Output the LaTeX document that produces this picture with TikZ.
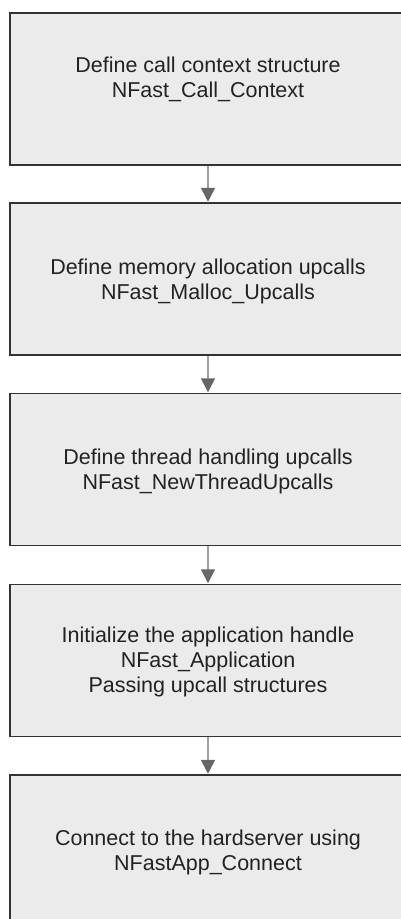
\documentclass[tikz,border=0pt]{standalone}
\usepackage{fontspec}
\setmainfont{Liberation Sans}
\usetikzlibrary{arrows.meta}
\definecolor{boxfill}{HTML}{EBEBEB}
\definecolor{boxline}{HTML}{333333}
\definecolor{linkline}{HTML}{A0A0A0}
\definecolor{tipfill}{HTML}{666666}
\definecolor{textcol}{HTML}{222222}
\begin{document}
\begin{tikzpicture}[x=1pt,y=-1pt,
  stepbox/.style={draw=boxline, line width=1.3pt, fill=boxfill,
    minimum width=420pt, minimum height=152pt, inner sep=0pt},
  steptext/.style={text=textcol, align=center, inner sep=0pt,
    font=\fontsize{21.5pt}{25pt}\selectfont},
  link/.style={draw=linkline, line width=1.5pt,
    -{Triangle[length=14pt,width=14pt,color=tipfill]}, shorten >=0.6pt}
]
\useasboundingbox (0,0) rectangle (401,919);
\begin{scope}
\clip (0,0) rectangle (401,919);

% the five steps (they run on past the right edge)
\node[stepbox] (b1) at (220,89)    {};
\node[stepbox] (b2) at (220,279)   {};
\node[stepbox] (b3) at (220,469.5) {};
\node[stepbox] (b4) at (220,660.5) {};
\node[stepbox] (b5) at (220,851)   {};

% their captions
\node[steptext] (t1) at (208,79)
  {Define call context structure\\NFast\_Call\_Context};
\node[steptext] (t2) at (208,281)
  {Define memory allocation upcalls\\NFast\_Malloc\_Upcalls};
\node[steptext] (t3) at (208,471.5)
  {Define thread handling upcalls\\NFast\_NewThreadUpcalls};
\node[steptext] (t4) at (208,662)
  {Initialize the application handle\\NFast\_Application\\Passing upcall structures};
\node[steptext] (t5) at (208,852)
  {Connect to the hardserver using\\NFastApp\_Connect};

% flow between steps
\draw[link] (b1.south -| t1.center) -- (b2.north -| t1.center);
\draw[link] (b2.south -| t1.center) -- (b3.north -| t1.center);
\draw[link] (b3.south -| t1.center) -- (b4.north -| t1.center);
\draw[link] (b4.south -| t1.center) -- (b5.north -| t1.center);
\end{scope}
\end{tikzpicture}
\end{document}
